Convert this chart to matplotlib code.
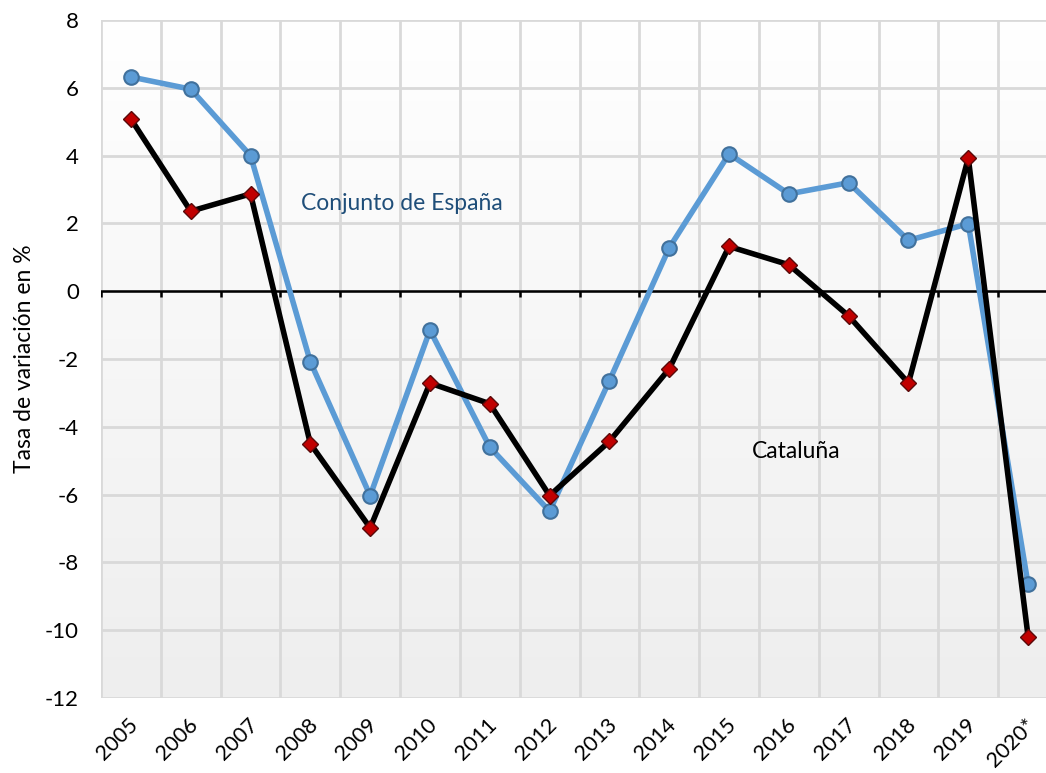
import numpy as np
import matplotlib
matplotlib.use("Agg")
import matplotlib.pyplot as plt
import matplotlib.transforms as mtransforms

years = ["2005", "2006", "2007", "2008", "2009", "2010", "2011", "2012",
         "2013", "2014", "2015", "2016", "2017", "2018", "2019", "2020*"]
espana = [6.32, 5.96, 4.0, -2.08, -6.03, -1.15, -4.6, -6.49,
          -2.64, 1.28, 4.05, 2.87, 3.2, 1.5, 1.99, -8.65]
cataluna = [5.08, 2.36, 2.87, -4.5, -6.98, -2.71, -3.32, -6.03,
            -4.43, -2.29, 1.32, 0.78, -0.73, -2.71, 3.93, -10.19]
y_ticks = [8, 6, 4, 2, 0, -2, -4, -6, -8, -10, -12]

plt.rcParams['font.family'] = ['Lato', 'DejaVu Sans']
plt.rcParams['axes.unicode_minus'] = False

W, H = 1046, 773
fig = plt.figure(figsize=(W / 100, H / 100), dpi=100)
ax = fig.add_axes([101 / W, 1 - 698 / H, 957 / W, 678 / H])

n = len(years)
x = np.arange(n)
ax.set_xlim(-0.5, n - 0.5)
ax.set_ylim(-12, 8)

# background gradient (white top -> light grey bottom)
grad = np.linspace(0.0, 1.0, 256).reshape(-1, 1)
cmap = matplotlib.colors.LinearSegmentedColormap.from_list("bg", ["#eeeeee", "#ffffff"])
ax.imshow(grad, extent=[0, 1, 0, 1], transform=ax.transAxes, aspect='auto',
          cmap=cmap, zorder=0, origin='lower')

# grid
ax.set_xticks(x)
ax.set_xticks(np.arange(-0.5, n, 1.0), minor=True)
ax.set_yticks(y_ticks)
ax.grid(True, which='minor', axis='x', color='#d9d9d9', lw=2, zorder=1)
ax.grid(True, which='major', axis='y', color='#d9d9d9', lw=2, zorder=1)
ax.tick_params(axis='x', which='both', length=0, pad=12)
ax.tick_params(axis='y', which='both', length=0, pad=16, labelsize=16)
for s in ax.spines.values():
    s.set_visible(False)

ax.set_xticklabels(years, rotation=45, ha='right', va='top',
                   rotation_mode='anchor', fontsize=15.5)
offset = mtransforms.ScaledTranslation(-0.03, 0, fig.dpi_scale_trans)
for lab in ax.get_xticklabels():
    lab.set_transform(lab.get_transform() + offset)

# zero line with ticks at category boundaries
ax.axhline(0, color='black', lw=1.8, zorder=3)
bounds = np.arange(-0.5, n, 1.0)
ax.vlines(bounds, -0.17, 0, color='black', lw=1.8, zorder=3)

ax.plot(x, espana, color='#5b9bd5', lw=4, marker='o', ms=10.5,
        mfc='#5b9bd5', mec='#41719c', mew=1.5, zorder=4)
ax.plot(x, cataluna, color='black', lw=4, marker='D', ms=8,
        mfc='#c00000', mec='#5a0a0a', mew=1.0, zorder=5)

ax.text(2.84, 2.6, "Conjunto de España", color='#1f4e79', fontsize=16.5,
        ha='left', va='center', zorder=6)
ax.text(10.39, -4.74, "Cataluña", color='black', fontsize=16.5,
        ha='left', va='center', zorder=6)

ax.set_ylabel("Tasa de variación en %", fontsize=16.5, labelpad=7)

fig.savefig("out.png", dpi=100)
